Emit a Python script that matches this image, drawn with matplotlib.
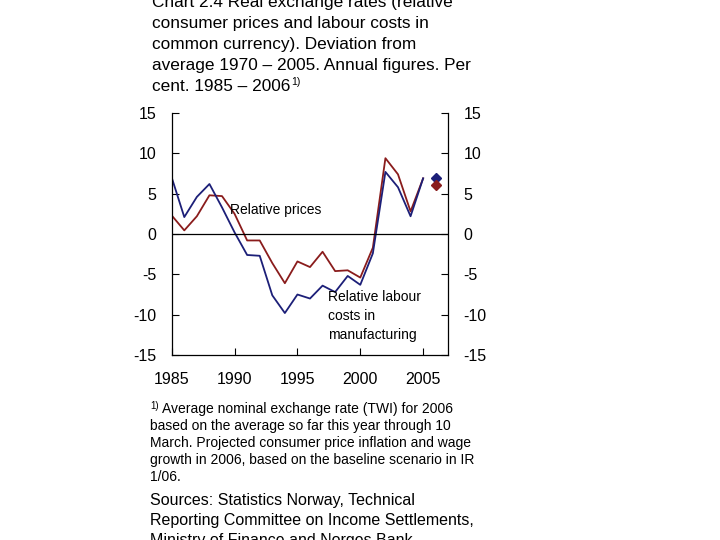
import numpy as np
import matplotlib
matplotlib.use("Agg")
import matplotlib.pyplot as plt

plt.rcParams['font.family'] = ['Liberation Sans', 'DejaVu Sans']
plt.rcParams['axes.unicode_minus'] = False

# annual figures, per cent deviation from 1970-2005 average
years = list(range(1985, 2006))
labour_costs = [7.0, 2.1, 4.6, 6.2, 3.3, 0.2, -2.6, -2.7, -7.6, -9.8, -7.5,
                -8.0, -6.4, -7.2, -5.2, -6.3, -2.4, 7.7, 5.8, 2.2, 6.9]
rel_prices = [2.3, 0.45, 2.2, 4.8, 4.7, 2.5, -0.8, -0.8, -3.6, -6.1, -3.4,
              -4.1, -2.2, -4.6, -4.5, -5.4, -1.7, 9.4, 7.4, 2.8, 6.9]
proj_year = [2006]
proj_labour = [7.0]
proj_prices = [6.1]

yticks = [-15, -10, -5, 0, 5, 10, 15]
xticks = [1985, 1990, 1995, 2000, 2005]

blue = '#1c1f78'
red = '#8a1c1c'

fig = plt.figure(figsize=(7.2, 5.4), dpi=100)
ax = fig.add_axes([0.2385, 0.3426, 0.3841, 0.4481])

ax.plot(years, rel_prices, color=red, lw=1.3)
ax.plot(years, labour_costs, color=blue, lw=1.3)
ax.plot(proj_year, proj_labour, 'D', color=blue, ms=5)
ax.plot(proj_year, proj_prices, 'D', color=red, ms=5)
ax.axhline(0, color='black', lw=0.9)

ax.set_xlim(1985, 2007)
ax.set_ylim(-15, 15)
ax.set_xticks(xticks)
ax.set_yticks(yticks)
ax.spines['top'].set_visible(False)
for s in ['left', 'right', 'bottom']:
    ax.spines[s].set_linewidth(0.9)
ax.tick_params(axis='y', direction='in', length=5, left=True, right=True,
               labelleft=True, labelright=True, labelsize=11.5, pad=11)
ax.tick_params(axis='x', direction='in', length=5, labelsize=11.5, pad=12)

ax.text(1989.6, 3.0, 'Relative prices', fontsize=10, va='center')
ax.text(1997.4, -10.2, 'Relative labour\ncosts in\nmanufacturing',
        fontsize=10, va='center', linespacing=1.45)

def px(x, y):
    return x / 720, 1 - y / 540

title_lines = ['Chart 2.4 Real exchange rates (relative',
               'consumer prices and labour costs in',
               'common currency). Deviation from',
               'average 1970 \u2013 2005. Annual figures. Per',
               'cent. 1985 \u2013 2006']
for i, line in enumerate(title_lines):
    t = fig.text(*px(152, 3 + i * 20.8), line, fontsize=12.4, va='center')
# footnote mark right after the last title line
plt.annotate('1)', xy=(1, 1), xycoords=t, xytext=(0.5, 1),
             textcoords='offset points', fontsize=7.5, va='top')

note_lines = ['Average nominal exchange rate (TWI) for 2006',
              'based on the average so far this year through 10',
              'March. Projected consumer price inflation and wage',
              'growth in 2006, based on the baseline scenario in IR',
              '1/06.']
fig.text(*px(150, 406), '1)', fontsize=7, va='center')
for i, line in enumerate(note_lines):
    x0 = 162 if i == 0 else 150
    fig.text(*px(x0, 409 + i * 16.9), line, fontsize=10, va='center')

source_lines = ['Sources: Statistics Norway, Technical',
                'Reporting Committee on Income Settlements,',
                'Ministry of Finance and Norges Bank']
for i, line in enumerate(source_lines):
    fig.text(*px(150, 500 + i * 20.3), line, fontsize=11.5, va='center')

fig.savefig('out.png', dpi=100)
